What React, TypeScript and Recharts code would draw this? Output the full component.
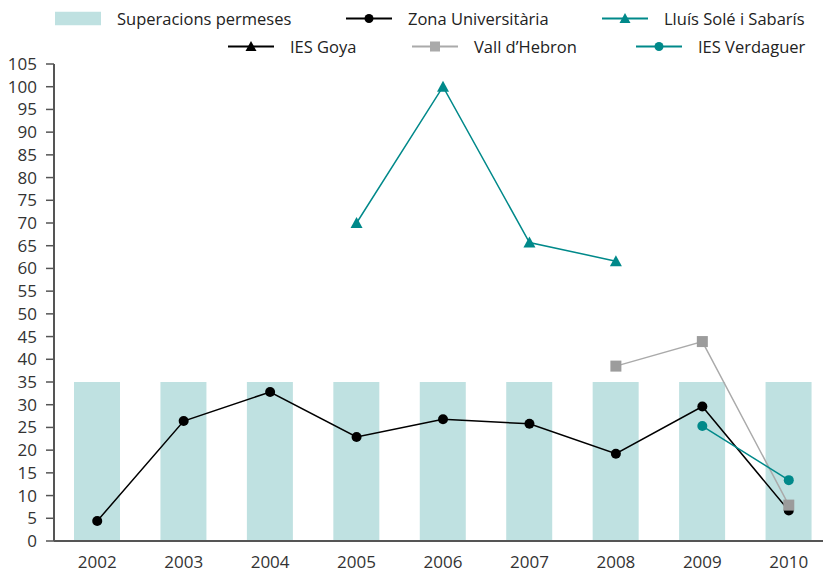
import React from "react";
import { Bar, ComposedChart, Line, XAxis, YAxis } from "recharts";

// Data
const years = ["2002", "2003", "2004", "2005", "2006", "2007", "2008", "2009", "2010"];
const permitted = [35, 35, 35, 35, 35, 35, 35, 35, 35];
const zonaUniversitaria = [4.4, 26.4, 32.8, 22.9, 26.8, 25.8, 19.2, 29.6, 6.7];
const lluisSole = [null, null, null, 70, 100, 65.7, 61.6, null, null];
const iesGoya = [null, null, null, null, null, null, null, null, null];
const vallHebron = [null, null, null, null, null, null, 38.5, 43.9, 7.9];
const iesVerdaguer = [null, null, null, null, null, null, null, 25.3, 13.4];
const yTicks = [0, 5, 10, 15, 20, 25, 30, 35, 40, 45, 50, 55, 60, 65, 70, 75, 80, 85, 90, 95, 100, 105];

const data = years.map((year, i) => ({
	year,
	permitted: permitted[i],
	zona: zonaUniversitaria[i],
	lluis: lluisSole[i],
	goya: iesGoya[i],
	vall: vallHebron[i],
	verdaguer: iesVerdaguer[i],
}));

const TEAL = "#00898a";
const BAR = "#bfe1e1";
const GRAY = "#9c9c9c";

const CircleDot = (color: string) => (props: any) => {
	const { cx, cy, index } = props;
	if (cx == null || cy == null) return <g key={index} />;
	return <circle key={index} cx={cx} cy={cy} r={5} fill={color} />;
};

const TriangleDot = (color: string) => (props: any) => {
	const { cx, cy, index } = props;
	if (cx == null || cy == null) return <g key={index} />;
	return <path key={index} d={`M${cx},${cy - 6} L${cx + 6},${cy + 5} L${cx - 6},${cy + 5} Z`} fill={color} />;
};

const SquareDot = (color: string) => (props: any) => {
	const { cx, cy, index } = props;
	if (cx == null || cy == null) return <g key={index} />;
	return <rect key={index} x={cx - 5.5} y={cy - 5.5} width={11} height={11} fill={color} />;
};

function Marker({ kind, color }: { kind: string; color: string }) {
	return (
		<svg width={46} height={14} style={{ display: "block" }}>
			{kind === "bar" ? (
				<rect x={0} y={0} width={46} height={14} fill={BAR} />
			) : (
				<>
					<line x1={0} y1={7} x2={46} y2={7} stroke={color} strokeWidth={2} />
					{kind === "circle" && <circle cx={23} cy={7} r={4.5} fill={color} />}
					{kind === "triangle" && <path d="M23,1.5 L28.5,11.5 L17.5,11.5 Z" fill={color} />}
					{kind === "square" && <rect x={18} y={2} width={10} height={10} fill={color} />}
				</>
			)}
		</svg>
	);
}

const legendItems = [
	{ label: "Superacions permeses", kind: "bar", color: BAR, left: 55, top: 18 },
	{ label: "Zona Universitària", kind: "circle", color: "#000", left: 346, top: 18 },
	{ label: "Lluís Solé i Sabarís", kind: "triangle", color: TEAL, left: 602, top: 18 },
	{ label: "IES Goya", kind: "triangle", color: "#000", left: 228, top: 46 },
	{ label: "Vall d’Hebron", kind: "square", color: "#aaaaaa", left: 412, top: 46 },
	{ label: "IES Verdaguer", kind: "circle", color: TEAL, left: 636, top: 46 },
];

export default function App() {
	return (
		<div
			style={{
				position: "fixed",
				left: 0,
				top: 0,
				width: 823,
				height: 573,
				overflow: "hidden",
				fontFamily: '"Open Sans", sans-serif',
				background: "#fff",
			}}
		>
			{legendItems.map((item) => (
				<div
					key={item.label}
					style={{
						position: "absolute",
						left: item.left,
						top: item.top,
						transform: "translateY(-50%)",
						display: "flex",
						alignItems: "center",
						gap: 16,
						fontSize: 16.5,
						color: "#222",
						whiteSpace: "nowrap",
					}}
				>
					<Marker kind={item.kind} color={item.color} />
					<span>{item.label}</span>
				</div>
			))}
			<ComposedChart width={832} height={573} data={data} margin={{ top: 64, right: 0, bottom: 0, left: 0 }}>
				<XAxis
					dataKey="year"
					height={32}
					axisLine={{ stroke: "#555", strokeWidth: 2 }}
					tickLine={false}
					tickMargin={9}
					tick={{ fontSize: 17, fill: "#333" }}
				/>
				<YAxis
					width={54}
					domain={[0, 105]}
					ticks={yTicks}
					interval={0}
					axisLine={{ stroke: "#555", strokeWidth: 2 }}
					tickLine={{ stroke: "#555", strokeWidth: 1.5 }}
					tickSize={8}
					tickMargin={9}
					tick={{ fontSize: 17, fill: "#333" }}
				/>
				<Bar dataKey="permitted" fill={BAR} barSize={46} isAnimationActive={false} />
				<Line dataKey="zona" stroke="#000" strokeWidth={1.5} dot={CircleDot("#000")} activeDot={false} isAnimationActive={false} />
				<Line dataKey="lluis" stroke={TEAL} strokeWidth={1.5} dot={TriangleDot(TEAL)} activeDot={false} isAnimationActive={false} />
				<Line dataKey="goya" stroke="#000" strokeWidth={1.5} dot={TriangleDot("#000")} activeDot={false} isAnimationActive={false} />
				<Line dataKey="vall" stroke="#aaaaaa" strokeWidth={1.5} dot={SquareDot(GRAY)} activeDot={false} isAnimationActive={false} />
				<Line dataKey="verdaguer" stroke={TEAL} strokeWidth={1.5} dot={CircleDot(TEAL)} activeDot={false} isAnimationActive={false} />
			</ComposedChart>
		</div>
	);
}
